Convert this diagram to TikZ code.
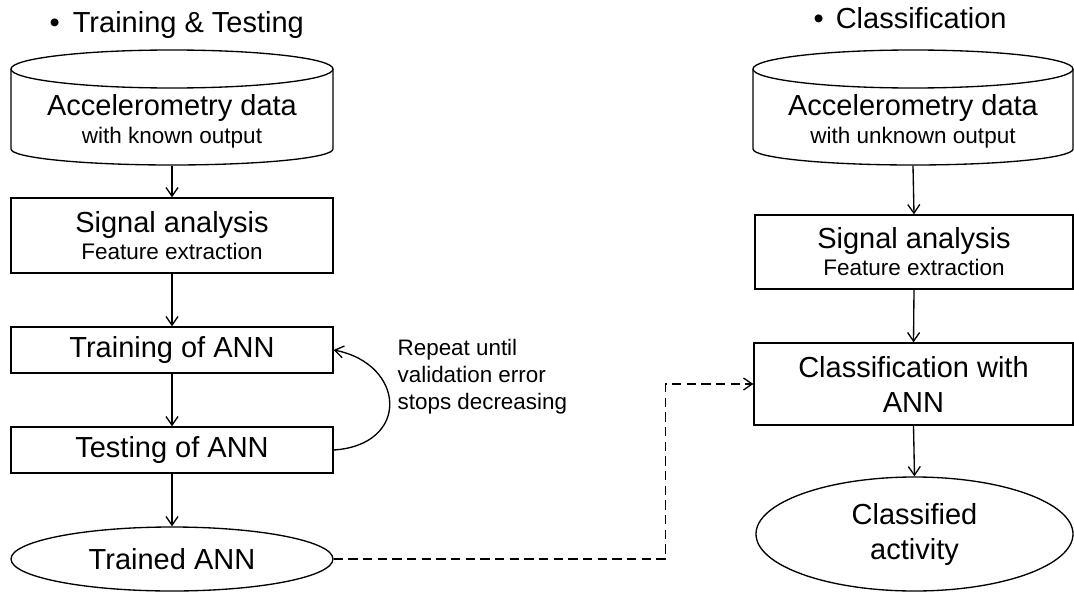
\documentclass[tikz,border=0pt]{standalone}
\usepackage{fontspec}
\setmainfont{Liberation Sans}
\usetikzlibrary{arrows.meta,shapes.geometric,calc}
\newdimen\pxu \pxu=0.75pt
\newcommand\fpx[2]{\fontsize{#1\pxu}{#2\pxu}\selectfont}

\begin{document}
\begin{tikzpicture}[x=0.75pt,y=0.75pt,line width=1pt,
  box/.style={draw, rectangle, inner sep=0pt, align=center},
  oval/.style={draw, ellipse, inner sep=0pt, align=center},
  hidden/.style={rectangle, inner sep=0pt},
  txt/.style={inner sep=0pt, align=center},
  title/.style={inner sep=0pt, anchor=base west, font=\fpx{29}{34}},
  arr/.style={-{Straight Barb[length=6.5pt,width=9pt,line width=1pt]}},
  dasharr/.style={arr, dash pattern=on 7pt off 4pt}
]
\useasboundingbox (0,0) rectangle (1074,-592);

% column headings
\node[title] (headL) at (49,-33) {\textbullet\hspace{13\pxu}Training \& Testing};
\node[title] (headR) at (813,-29) {\textbullet\hspace{12\pxu}Classification};

% ---------- training and testing ----------
\node[hidden, minimum width=322\pxu, minimum height=115\pxu] (dataL) at (172,-107.5) {};
\draw (172,-69) ellipse [x radius=161, y radius=19];
\draw (11,-69) -- (11,-149) arc [start angle=180, end angle=360, x radius=161, y radius=16] -- (333,-69);
\node[txt, font=\fpx{29}{28}] (dataLtext) at (172,-121)
  {Accelerometry data\\{\fpx{22.5}{28}with known output}};

\node[box, minimum width=322\pxu, minimum height=75\pxu, font=\fpx{29}{27}] (sigL) at (172,-235.5)
  {Signal analysis\\{\fpx{22.5}{27}Feature extraction}};
\node[box, minimum width=322\pxu, minimum height=46\pxu, font=\fpx{29}{35}] (train) at (172,-350) {Training of ANN};
\node[box, minimum width=322\pxu, minimum height=46\pxu, font=\fpx{29}{35}] (test) at (172,-450) {Testing of ANN};
\node[oval, minimum width=322\pxu, minimum height=64\pxu, font=\fpx{29}{35}] (trained) at (172,-559) {Trained ANN};

\draw[arr] (dataL.south) -- (sigL.north);
\draw[arr] (sigL.south) -- (train.north);
\draw[arr] (train.south) -- (test.north);
\draw[arr] (test.south) -- (trained.north);

% feedback loop
\draw[arr] (test.east) .. controls ($(test.east)+(77,5)$) and ($(train.east)+(72,-14)$) .. (train.east);
\node[txt, align=left, anchor=west, font=\fpx{22.4}{27}] (repeat) at (397,-376.5)
  {Repeat until\\validation error\\stops decreasing};

% ---------- classification ----------
\node[hidden, minimum width=320\pxu, minimum height=115\pxu] (dataR) at (913,-107.5) {};
\draw (913,-69) ellipse [x radius=160, y radius=19];
\draw (753,-69) -- (753,-149) arc [start angle=180, end angle=360, x radius=160, y radius=16] -- (1073,-69);
\node[txt, font=\fpx{29}{28}] (dataRtext) at (913,-121)
  {Accelerometry data\\{\fpx{22.5}{28}with unknown output}};

\node[box, minimum width=318\pxu, minimum height=74\pxu, font=\fpx{29}{27}] (sigR) at (914,-252)
  {Signal analysis\\{\fpx{22.5}{27}Feature extraction}};
\node[box, minimum width=319\pxu, minimum height=82\pxu, font=\fpx{29}{35}] (classify) at (913.5,-384)
  {Classification with\\ANN};
\node[oval, minimum width=317\pxu, minimum height=114\pxu, font=\fpx{29}{35}] (result) at (914.5,-534)
  {Classified\\activity};

\draw[arr] (dataR.south) -- (sigR.north);
\draw[arr] (sigR.south) -- (classify.north);
\draw[arr] (classify.south) -- (result.north);

% trained network handed over to the classifier
\draw[dasharr] (trained.east) -- ++(332,0) |- (classify.west);
\end{tikzpicture}
\end{document}
